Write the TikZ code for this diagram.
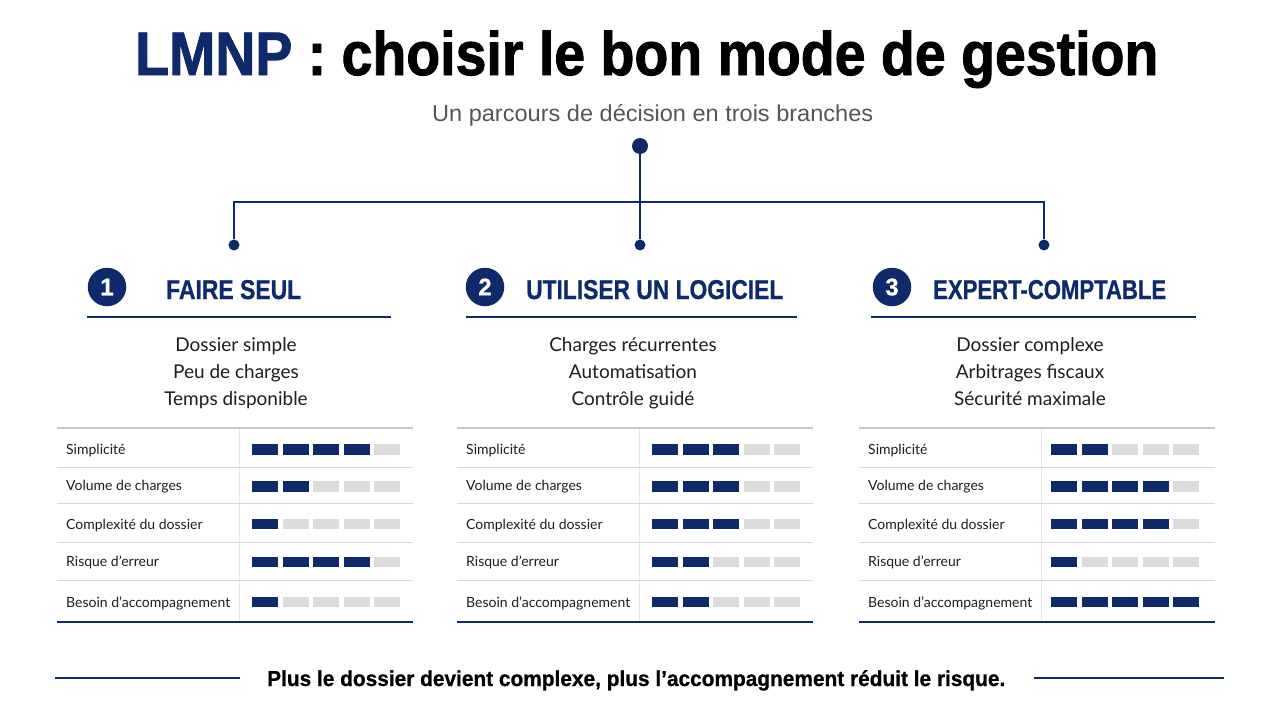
\documentclass[tikz,border=0pt]{standalone}
\usepackage{fontspec}
\usepackage{graphicx}
\setmainfont{Lato}
\newfontfamily\arialf{Liberation Sans}
\newfontfamily\heavyf{Liberation Sans}[BoldFeatures={FakeBold=1.6}]
\newfontfamily\semif{Liberation Sans}[BoldFeatures={FakeBold=0.8}]
\definecolor{navy}{HTML}{0F2A6B}
\definecolor{subgray}{HTML}{555555}
\definecolor{txt}{HTML}{1E1E1E}
\definecolor{barlight}{HTML}{DCDCDC}
\definecolor{rule}{HTML}{C9C9C9}
\definecolor{vrule}{HTML}{E8E8E8}
\newcommand\fitbox[3]{\resizebox{#1}{#2}{\vphantom{H}\smash{#3}}}
\begin{document}
\begin{tikzpicture}[x=1pt,y=-1pt,
  tree/.style={draw=navy,line width=2.2pt},
  dotbig/.style={circle,fill=navy,inner sep=0pt,minimum size=16pt},
  dotsmall/.style={circle,fill=navy,inner sep=0pt,minimum size=11pt},
  numcirc/.style={circle,fill=navy,inner sep=0pt,minimum size=38.5pt,text=white,font=\semif\bfseries\fontsize{24}{24}\selectfont},
  headtxt/.style={anchor=base west,inner sep=0pt,text=navy},
  headrule/.style={draw=navy,line width=2pt},
  bullet/.style={anchor=base,inner sep=0pt,text=txt,font=\fontsize{19}{22}\selectfont},
  rowlab/.style={anchor=base west,inner sep=0pt,text=txt,font=\fontsize{14}{16}\selectfont},
  toprule/.style={draw=rule,line width=1.4pt},
  seprule/.style={draw=rule!70,line width=0.9pt},
  botrule/.style={draw=navy,line width=2.4pt},
  footrule/.style={draw=navy,line width=2.4pt}]
\useasboundingbox[fill=white] (0,0) rectangle (1280,720);

% title
\node[anchor=base west,inner sep=0pt] (title) at (135,75)
  {\fitbox{1023pt}{44pt}{\heavyf\bfseries{\color{navy}LMNP} : choisir le bon mode de gestion}};
\node[anchor=base west,inner sep=0pt] (sub) at (432,121.5)
  {\fitbox{441pt}{16.5pt}{\arialf\color{subgray}Un parcours de décision en trois branches}};

% tree
\node[dotbig] (root) at (640,146) {};
\coordinate (jl) at (234,202);
\coordinate (jr) at (1044,202);
\node[dotsmall] (b1) at (234,245) {};
\node[dotsmall] (b2) at (640,245) {};
\node[dotsmall] (b3) at (1044,245) {};
\draw[tree] (root) -- (b2);
\draw[tree] (b1) -- (jl) -- (jr) -- (b3);

% headers
\node[numcirc] (n1) at (107,287) {1};
\node[numcirc] (n2) at (485,287) {2};
\node[numcirc] (n3) at (892,287) {3};
\node[headtxt] (h1) at (166,299) {\fitbox{135pt}{19.5pt}{\semif\bfseries FAIRE SEUL}};
\node[headtxt] (h2) at (526,299) {\fitbox{257pt}{19.5pt}{\semif\bfseries UTILISER UN LOGICIEL}};
\node[headtxt] (h3) at (933,299) {\fitbox{233pt}{19.5pt}{\semif\bfseries EXPERT-COMPTABLE}};
\draw[headrule] (87,317) -- (391,317);
\draw[headrule] (466,317) -- (797,317);
\draw[headrule] (871,317) -- (1196,317);

% bullets
\node[bullet] (a1) at (236,351) {Dossier simple};
\node[bullet] (a2) at (236,378.5) {Peu de charges};
\node[bullet] (a3) at (236,405) {Temps disponible};
\node[bullet] (b21) at (633,351) {Charges récurrentes};
\node[bullet] (b22) at (633,378.5) {Automatisation};
\node[bullet] (b23) at (633,405) {Contrôle guidé};
\node[bullet] (c1) at (1030,351) {Dossier complexe};
\node[bullet] (c2) at (1030,378.5) {Arbitrages fiscaux};
\node[bullet] (c3) at (1030,405) {Sécurité maximale};

% tables
\foreach \c/\xo/\bs/\vals in {1/57/252/{4,2,1,4,1},2/457/652/{3,3,3,2,2},3/859/1051/{2,4,4,1,5}}{
  \draw[vrule,line width=1pt] (\xo+182,428) -- (\xo+182,622);
  \draw[toprule] (\xo,428) -- (\xo+356,428);
  \foreach \ys in {467,503,542,580}{
    \draw[seprule] (\xo,\ys) -- (\xo+356,\ys);
  }
  \draw[botrule] (\xo,622) -- (\xo+356,622);
  \foreach \lab/\yb/\yc [count=\r] in {Simplicité/454/449.5,Volume de charges/490/486.5,Complexité du dossier/529/524,Risque d’erreur/566/562,Besoin d’accompagnement/607/602}{
    \node[rowlab] (l\c\r) at (\xo+9,\yb) {\lab};
    \pgfmathtruncatemacro\v{{\vals}[\r-1]}
    \foreach \k in {1,...,5}{
      \ifnum\k>\v\relax
        \fill[barlight] (\bs+30.6*\k-30.6,\yc-5.3) rectangle ++(26,10.6);
      \else
        \fill[navy] (\bs+30.6*\k-30.6,\yc-5.3) rectangle ++(26,10.6);
      \fi
    }
  }
}

% footer
\draw[footrule] (55,678) -- (240,678);
\draw[footrule] (1034,678) -- (1224,678);
\node[anchor=base west,inner sep=0pt,text=black] (foot) at (267,686)
  {\fitbox{738pt}{15.5pt}{\semif\bfseries Plus le dossier devient complexe, plus l’accompagnement réduit le risque.}};
\end{tikzpicture}
\end{document}
